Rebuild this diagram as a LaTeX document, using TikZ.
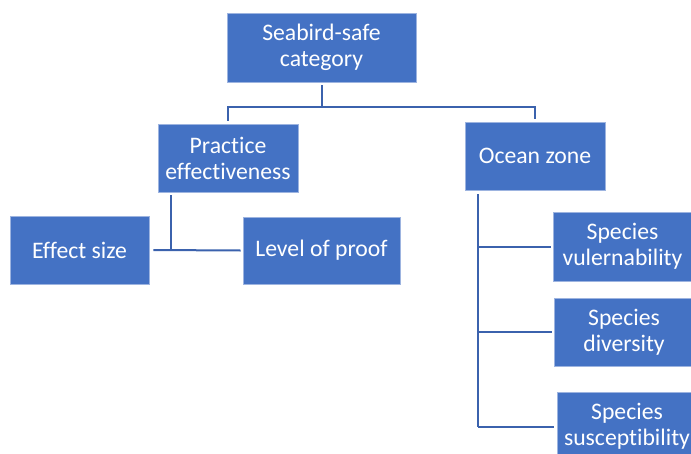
\documentclass[tikz,border=0pt]{standalone}
\usepackage{fontspec}
\setmainfont[Ligatures=NoCommon]{Carlito}
\usetikzlibrary{calc}
\definecolor{boxblue}{HTML}{4472C4}
\definecolor{boxedge}{HTML}{9DB4E0}
\definecolor{linkblue}{HTML}{3B62AD}
\begin{document}
\begin{tikzpicture}[x=1pt,y=-1pt,
  box/.style={rectangle, fill=boxblue, draw=boxedge, line width=0.6pt, text=white,
    align=center, inner sep=0pt, font=\fontsize{23.7}{26}\selectfont},
  conn/.style={draw=linkblue, line width=2pt}]
\useasboundingbox (0,0) rectangle (691,453);
% boxes
\node[box, minimum width=189, minimum height=69] (top) at (321.5,47.5) {Seabird-safe\\category};
\node[box, minimum width=140, minimum height=68] (pe) at (228,158) {Practice\\effectiveness};
\node[box, minimum width=140, minimum height=68] (oz) at (535,156) {Ocean zone};
\node[box, minimum width=139, minimum height=68] (es) at (79.5,250) {Effect size};
\node[box, minimum width=157, minimum height=67] (lp) at (321.5,250.5) {Level of proof};
\node[box, minimum width=139, minimum height=69] (sv) at (622.5,246.5) {Species\\vulernability};
\node[box, minimum width=140, minimum height=68] (sd) at (624,332) {Species\\diversity};
\node[box, minimum width=140, minimum height=69] (ss) at (627,426.5) {Species\\susceptibility};
% top connectors
\coordinate (tj) at (321.5,107);
\draw[conn] ([yshift=-3pt]top.south) -- (tj);
\draw[conn, shorten >=3pt] (tj) -| (pe.north);
\draw[conn, shorten >=3pt] (tj) -| (oz.north);
% practice effectiveness connectors
\coordinate (pstart) at ($(pe.south west)+(13,3)$);
\coordinate (pj) at ($(pe.south west)+(13,58)$);
\draw[conn] (pstart) -- (pj);
\draw[conn] ([xshift=4pt]es.east) -- ([xshift=-2pt]lp.west);
% ocean zone connectors
\coordinate (ostart) at ($(oz.south west)+(13,4)$);
\path (ostart |- ss.west) coordinate (oend);
\draw[conn] (ostart) -- (oend);
\draw[conn, shorten >=2pt] (ostart |- sv.west) -- (sv.west);
\draw[conn, shorten >=2pt] (ostart |- sd.west) -- (sd.west);
\draw[conn, shorten >=3pt] (oend) -- (ss.west);
\end{tikzpicture}
\end{document}
